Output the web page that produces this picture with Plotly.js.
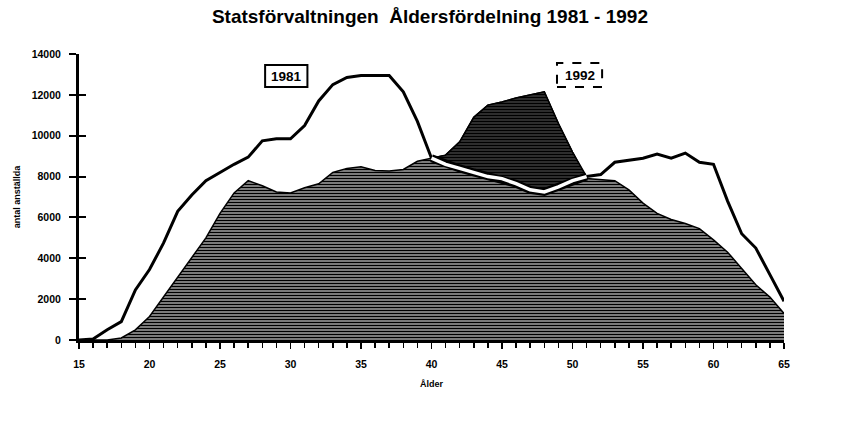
<!DOCTYPE html>
<html>
<head>
<meta charset="utf-8">
<script src="https://cdn.plot.ly/plotly-3.0.1.min.js"></script>
<style>html,body{margin:0;padding:0;background:#fff}#chart{width:848px;height:432px}</style>
</head>
<body>
<div id="chart"></div>
<script>
const ages = [15,16,17,18,19,20,21,22,23,24,25,26,27,28,29,30,31,32,33,34,35,36,37,38,39,40,
              41,42,43,44,45,46,47,48,49,50,51,52,53,54,55,56,57,58,59,60,61,62,63,64,65];
const y1981 = [0,50,500,900,2450,3450,4750,6300,7100,7800,8200,8600,8950,9750,9850,9850,10500,11700,12500,12850,12950,
               12950,12950,12150,10700,8900,8600,8400,8200,8000,7900,7650,7350,7250,7500,7800,8000,8100,8700,8800,8900,
               9100,8900,9150,8700,8600,6800,5200,4500,3200,1900];
const y1992 = [0,0,0,100,500,1150,2100,3100,4000,5000,6200,7200,7800,7550,7250,7200,7450,7650,8200,8400,8480,
               8300,8270,8350,8750,8900,9050,9700,10900,11500,11650,11850,12000,12150,10600,9200,7900,7850,7800,7350,6700,
               6200,5900,5700,5450,4900,4300,3500,2700,2100,1300];
const yTicks = [0,2000,4000,6000,8000,10000,12000,14000];
const yTickText = ['0','2000','4000','6000','8000','10000','12000','14000'];
const xTicks = [15,20,25,30,35,40,45,50,55,60,65];
const seriesNames = ['1981','1992'];

// segment where the 1992 area rises above the 1981 line (plus one neighbour each side)
const above = ages.map((a,i)=> y1992[i] > y1981[i]);
let first = above.indexOf(true), last = above.lastIndexOf(true);
first = Math.max(0, first-1); last = Math.min(ages.length-1, last+1);
const segX = ages.slice(first, last+1);
const seg81 = y1981.slice(first, last+1);
const segTop = segX.map((a,k)=> Math.max(y1992[first+k], y1981[first+k]));

const traces = [
  {x: ages, y: y1992, type:'scatter', mode:'lines', fill:'tozeroy',
   line:{color:'#000', width:1.5}, fillcolor:'#8a8a8a',
   fillpattern:{shape:'-', fgcolor:'#000', bgcolor:'#a4a4a4', size:3, solidity:0.5},
   name: seriesNames[1], hoverinfo:'skip'},
  {x: segX, y: seg81, type:'scatter', mode:'lines', line:{color:'rgba(0,0,0,0)', width:0}, hoverinfo:'skip'},
  {x: segX, y: segTop, type:'scatter', mode:'lines', fill:'tonexty',
   line:{color:'#000', width:1.5}, fillcolor:'#333',
   fillpattern:{shape:'-', fgcolor:'#000', bgcolor:'#4a4a4a', size:3, solidity:0.6}, hoverinfo:'skip'},
  {x: ages, y: y1981, type:'scatter', mode:'lines', line:{color:'#000', width:3}, name: seriesNames[0], hoverinfo:'skip'},
  {x: segX, y: seg81, type:'scatter', mode:'lines', line:{color:'#000', width:8}, hoverinfo:'skip'},
  {x: segX, y: seg81, type:'scatter', mode:'lines', line:{color:'#fff', width:3.5}, hoverinfo:'skip'}
];

const tickFont = {family:'Liberation Sans, Arial, sans-serif', size:10.5, color:'#000', weight:'bold'};

const layout = {
  width:848, height:432,
  margin:{l:79, r:64, t:54, b:92},
  paper_bgcolor:'#fff', plot_bgcolor:'#fff',
  showlegend:false,
  title:{text:'Statsförvaltningen  Åldersfördelning 1981 - 1992',
         font:{family:'Liberation Sans, Arial, sans-serif', size:19, color:'#000', weight:'bold'},
         x:0.507, xanchor:'center', y:0.963, yref:'container', yanchor:'middle'},
  xaxis:{range:[15,65], tickvals:xTicks, ticks:'outside', ticklen:6, tickwidth:1.5, tickcolor:'#000',
         minor:{dtick:1, ticks:'outside', ticklen:5, tickwidth:1.5, tickcolor:'#000', showgrid:false},
         showline:true, linecolor:'#000', linewidth:2.5, showgrid:false, zeroline:false,
         tickfont:tickFont, ticklabelstandoff:7,
         title:{text:'Ålder', font:{family:'Liberation Sans, Arial, sans-serif', size:9, color:'#000', weight:'bold'}, standoff:12}},
  yaxis:{range:[0,14000], tickvals:yTicks, ticktext:yTickText, ticks:'outside', ticklen:7, tickwidth:2, tickcolor:'#000',
         showline:true, linecolor:'#000', linewidth:3, showgrid:false, zeroline:false,
         tickfont:tickFont, ticklabelstandoff:6,
         title:{text:'antal anställda', font:{family:'Liberation Sans, Arial, sans-serif', size:9, color:'#000', weight:'bold'}, standoff:10}},
  yaxis2:{range:[0,14000], overlaying:'y', side:'left', tickvals:yTicks, ticks:'inside', ticklen:7, tickwidth:2, tickcolor:'#000',
          showticklabels:false, showline:false, showgrid:false, zeroline:false},
  shapes:[
    {type:'rect', xref:'x', yref:'y', x0:28.2, x1:31.2, y0:12380, y1:13460, line:{color:'#000', width:2}},
    {type:'rect', xref:'x', yref:'y', x0:48.9, x1:52.1, y0:12380, y1:13560, line:{color:'#000', width:2, dash:'dash'}}
  ],
  annotations:[
    {text:seriesNames[0], xref:'x', yref:'y', x:29.7, y:12920, showarrow:false,
     font:{family:'Liberation Sans, Arial, sans-serif', size:13.5, color:'#000', weight:'bold'}},
    {text:seriesNames[1], xref:'x', yref:'y', x:50.5, y:12970, showarrow:false,
     font:{family:'Liberation Sans, Arial, sans-serif', size:13.5, color:'#000', weight:'bold'}}
  ]
};
// invisible trace to activate yaxis2 (crossing tick marks)
traces.push({x:[ages[0]], y:[y1981[0]], yaxis:'y2', type:'scatter', mode:'markers', marker:{opacity:0}, hoverinfo:'skip'});

Plotly.newPlot('chart', traces, layout, {displayModeBar:false, staticPlot:true});
</script>
</body>
</html>
